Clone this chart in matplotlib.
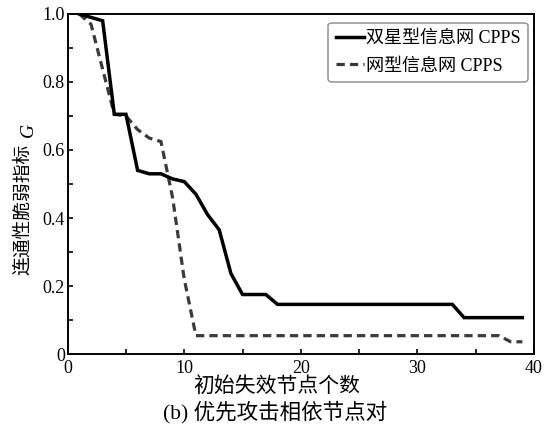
import matplotlib
matplotlib.use("Agg")
import matplotlib.pyplot as plt
from matplotlib.ticker import MultipleLocator, FuncFormatter

plt.rcParams["font.family"] = ["Liberation Serif", "Noto Sans CJK SC"]

# 双星型信息网 CPPS
star_x = [1, 3, 4, 5, 6, 7, 8, 9, 10, 11, 12, 13, 14, 15, 17, 18, 33, 34, 39]
star_g = [1.0, 0.98, 0.705, 0.705, 0.54, 0.53, 0.53, 0.515, 0.507, 0.47,
          0.41, 0.365, 0.237, 0.175, 0.175, 0.146, 0.146, 0.107, 0.107]

# 网型信息网 CPPS
mesh_x = [1, 2, 4, 5, 6, 7, 8, 9, 10, 11, 37, 38, 39]
mesh_g = [1.0, 0.97, 0.705, 0.70, 0.66, 0.635, 0.625, 0.46, 0.22, 0.054,
          0.054, 0.036, 0.036]

fig = plt.figure(figsize=(5.52, 4.33), dpi=100)
ax = fig.add_axes([0.1226, 0.1824, 0.8448, 0.7853])

ax.plot(star_x, star_g, color="black", lw=2.5, solid_joinstyle="miter",
        label="双星型信息网 CPPS", zorder=3)
ax.plot(mesh_x, mesh_g, color="#3a3a3a", lw=2.3, linestyle=(0, (2.6, 1.6)),
        label="网型信息网 CPPS", zorder=2)

ax.set_xlim(0, 40)
ax.set_ylim(0, 1.0)
ax.xaxis.set_major_locator(MultipleLocator(10))
ax.xaxis.set_minor_locator(MultipleLocator(5))
ax.yaxis.set_major_locator(MultipleLocator(0.2))
ax.yaxis.set_minor_locator(MultipleLocator(0.1))
ax.yaxis.set_major_formatter(FuncFormatter(lambda v, _: "0" if abs(v) < 1e-9 else f"{v:.1f}"))
ax.tick_params(axis="both", which="both", direction="in", length=3.5,
               width=1.2, labelsize=13, pad=2)
ax.tick_params(axis="x", pad=4)
for s in ax.spines.values():
    s.set_linewidth(1.4)

# y label: CJK part upright, G italic
ax.text(-0.096, 0.424, "连通性脆弱指标", transform=ax.transAxes, rotation=90,
        ha="center", va="center", fontsize=13.5,
        family=["Noto Sans CJK SC", "DejaVu Sans"])
ax.text(-0.085, 0.659, "G", transform=ax.transAxes, rotation=90,
        ha="center", va="center", fontsize=14, style="italic",
        family="Liberation Serif")

fig.text(0.502, 0.108, "初始失效节点个数", ha="center", va="center",
         fontsize=15, family=["Noto Sans CJK SC", "DejaVu Sans"])
fig.text(0.498, 0.048, "(b) 优先攻击相依节点对", ha="center", va="center",
         fontsize=15.5, family=["Liberation Serif", "Noto Sans CJK SC"])

leg = ax.legend(loc="upper right", bbox_to_anchor=(0.995, 0.985),
                fontsize=13, handlelength=1.6, handletextpad=0.1,
                borderpad=0.4, labelspacing=0.6, borderaxespad=0.2,
                fancybox=True, framealpha=1.0, edgecolor="#9a9a9a")
leg.get_frame().set_linewidth(1.2)

fig.savefig("out.png", dpi=100)
